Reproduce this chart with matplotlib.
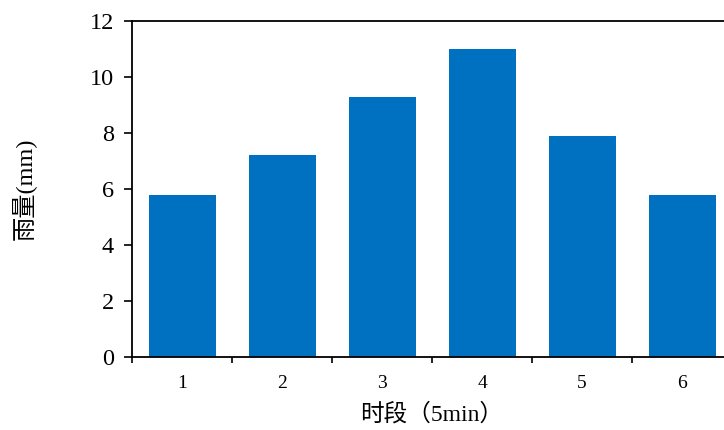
import matplotlib
matplotlib.use("Agg")
import matplotlib.pyplot as plt
import numpy as np

# 数据
periods = ["1", "2", "3", "4", "5", "6"]
rain = [5.8, 7.2, 9.3, 11.0, 7.9, 5.8]
yticks = [0, 2, 4, 6, 8, 10, 12]

plt.rcParams['font.family'] = ['Liberation Serif', 'Noto Sans CJK SC', 'DejaVu Sans']

fig = plt.figure(figsize=(7.24, 4.30), dpi=100)
# 右侧被裁掉，坐标轴超出画布
ax = fig.add_axes([132/724, 73/430, 600/724, 336/430])

x = np.arange(len(periods))
ax.bar(x, rain, width=0.67, color='#0070C0', zorder=2)

ax.set_xlim(-0.5, len(periods) - 0.5)
ax.set_ylim(0, 12)
ax.set_yticks(yticks)
ax.set_yticklabels([str(v) for v in yticks], fontsize=17.5)

ax.set_xticks(x)
ax.set_xticklabels(periods, fontsize=14)
ax.tick_params(axis='x', which='major', length=0, pad=13)
ax.set_xticks(np.arange(-0.5, len(periods) + 0.5, 1), minor=True)
ax.tick_params(axis='x', which='minor', length=4.5, width=1.2, direction='out')
ax.tick_params(axis='y', length=6, width=1.2, direction='out', pad=7)

for side in ['left', 'bottom', 'top']:
    ax.spines[side].set_linewidth(1.3)
ax.spines['right'].set_visible(False)

ax.set_xlabel('时段（5min）', fontsize=17, labelpad=8)
ax.set_ylabel('雨量(mm)', fontsize=17.5, labelpad=0)
# 标签右缘放在 x≈36 像素处
ax.yaxis.set_label_coords(-(132 - 36) / 600, 0.5)

fig.savefig('out.png', dpi=100)
